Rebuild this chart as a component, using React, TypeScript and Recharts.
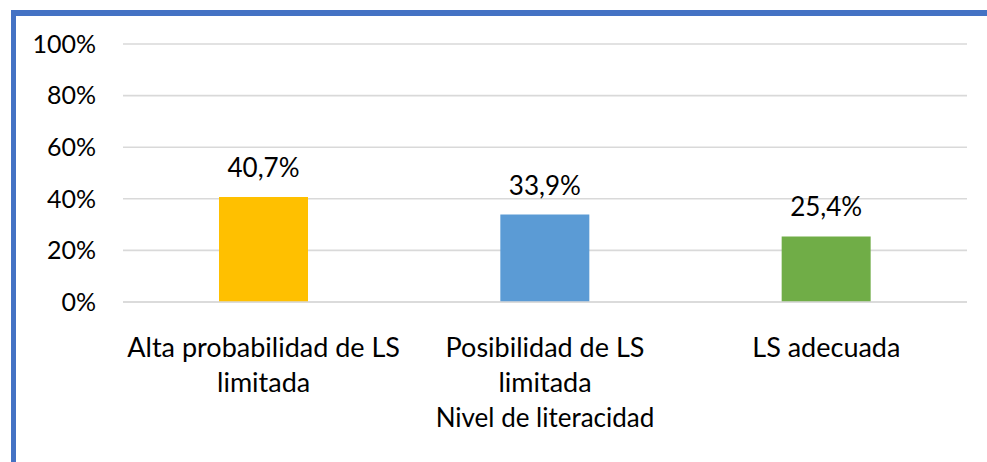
import React from 'react';
import { BarChart, Bar, XAxis, YAxis, CartesianGrid, Cell, LabelList } from 'recharts';

const categories = ['Alta probabilidad de LS|limitada', 'Posibilidad de LS|limitada', 'LS adecuada'];
const values = [40.7, 33.9, 25.4];
const colors = ['#FFC000', '#5B9BD5', '#70AD47'];
const yTicks = [0, 20, 40, 60, 80, 100];
const axisTitle = 'Nivel de literacidad';

const data = categories.map((c, i) => ({ name: c, value: values[i] }));

const FONT = 'Lato, "Open Sans", sans-serif';
const FS = 25;

const CatTick = (props: any) => {
  const { x, y, payload } = props;
  const lines = String(payload.value).split('|');
  return (
    <text x={x} y={y} textAnchor="middle" fontFamily={FONT} fontSize={27} fill="#000">
      {lines.map((l, i) => (
        <tspan key={i} x={x} y={y + 47 + i * 35}>{l}</tspan>
      ))}
    </text>
  );
};

export default function App() {
  return (
    <div style={{ position: 'absolute', left: 0, top: 0, width: 987, height: 462, background: '#fff' }}>
      <div style={{ position: 'absolute', left: 11, top: 10, right: 0, bottom: 0, borderLeft: '5px solid #4472C4', borderTop: '6px solid #4472C4' }} />
      <div style={{ position: 'absolute', left: 0, top: 0 }}>
        <BarChart width={987} height={462} data={data} margin={{ top: 44, right: 20, bottom: 0, left: 0 }}>
          <CartesianGrid vertical={false} stroke="#D9D9D9" strokeWidth={1.6} />
          <XAxis
            dataKey="name"
            height={160}
            tickLine={false}
            axisLine={{ stroke: '#D9D9D9', strokeWidth: 1.6 }}
            tick={<CatTick />}
            interval={0}
            label={{ value: axisTitle, position: 'insideBottom', offset: 35, fontFamily: FONT, fontSize: 26, fill: '#000' }}
          />
          <YAxis
            width={123}
            domain={[0, 100]}
            ticks={yTicks}
            tickFormatter={(v: number) => `${v}%`}
            tickLine={false}
            tickSize={0}
            tickMargin={27}
            axisLine={false}
            tick={{ fontFamily: FONT, fontSize: FS, fill: '#000' }}
          />
          <Bar dataKey="value" barSize={89} isAnimationActive={false}>
            {data.map((d, i) => (
              <Cell key={i} fill={colors[i]} />
            ))}
            <LabelList
              dataKey="value"
              position="top"
              offset={20}
              formatter={(v: any) => `${String(v).replace('.', ',')}%`}
              style={{ fontFamily: FONT, fontSize: 26, fill: '#000' }}
            />
          </Bar>
        </BarChart>
      </div>
    </div>
  );
}
